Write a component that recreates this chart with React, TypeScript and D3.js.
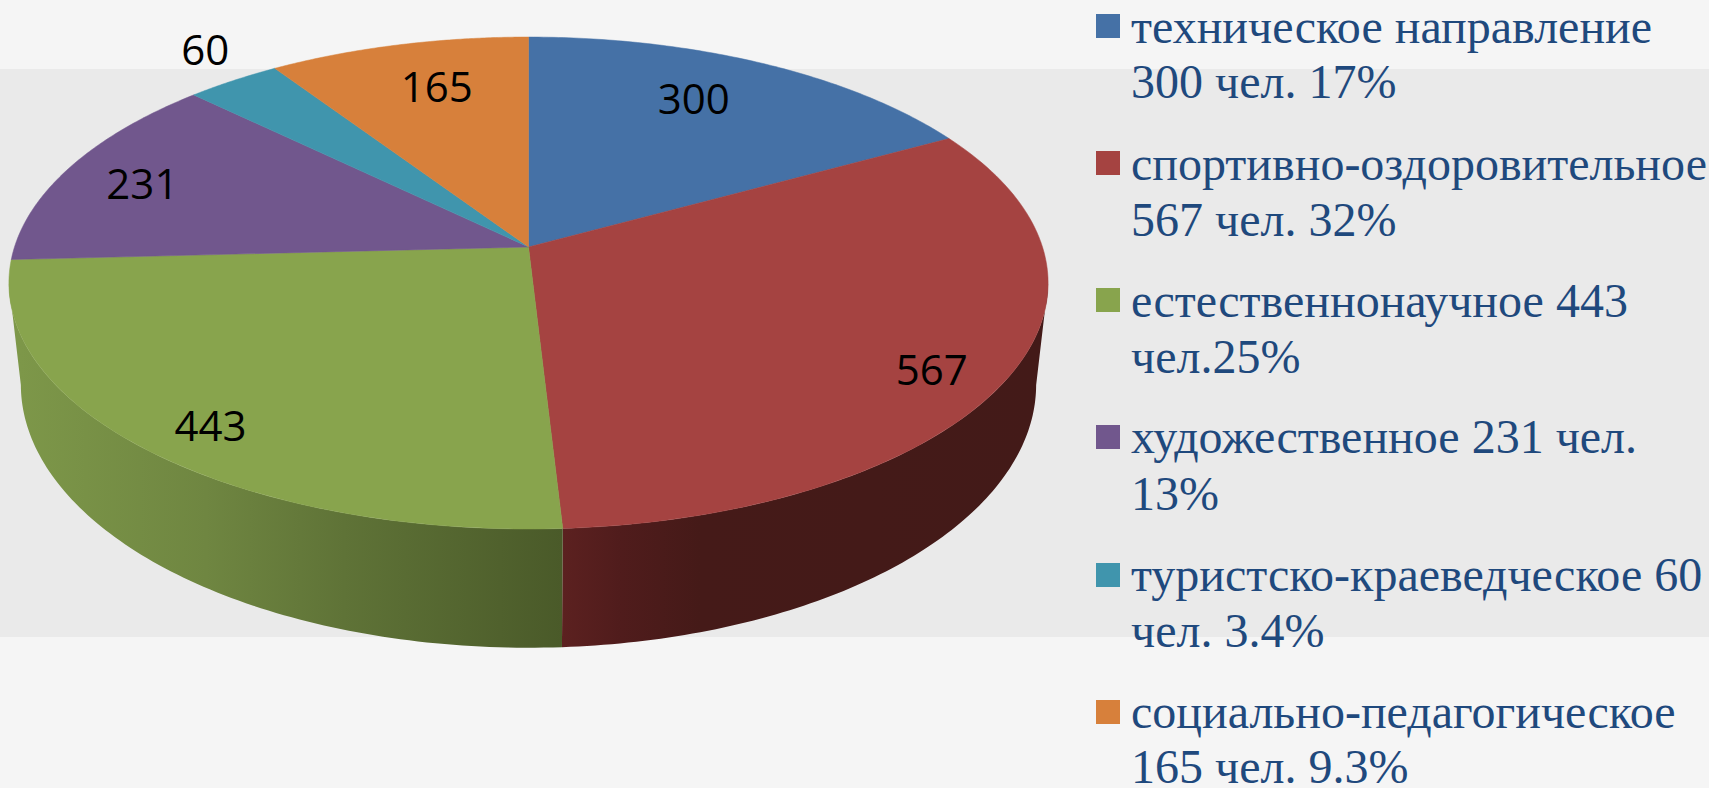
import React from "react";
import * as d3 from "d3";

const categories = ["техническое направление", "спортивно-оздоровительное", "естественнонаучное", "художественное", "туристско-краеведческое", "социально-педагогическое"];
const values = [300, 567, 443, 231, 60, 165];
const colors = ["#4571a6", "#a54341", "#88a44d", "#71578d", "#4095ad", "#d7803b"];
const legendLines = [
  ["техническое направление", "300 чел. 17%"],
  ["спортивно-оздоровительное", "567 чел. 32%"],
  ["естественнонаучное 443", "чел.25%"],
  ["художественное 231 чел.", "13%"],
  ["туристско-краеведческое 60", "чел. 3.4%"],
  ["социально-педагогическое", "165 чел. 9.3%"],
];
const labelNudges = [[-3, -16], [72, 36], [-58, 42], [-61, -7], [-110, -78], [3, -15]];
const swatchTops = [14, 151, 288, 425, 563, 700];
const baselines = [[43, 98], [180, 236], [317, 373], [453, 510], [591, 647], [728, 783]];

const W = 1709, H = 788;
const hubX = 528.5, hubY = 247;
const R = 514, Rv = 240.7, K = 0.1464;
const baseScaleX = 0.977, baseScaleY = 1.07, baseHubY = 346;

function project(theta: number, r = 1): [number, number] {
  const u = r * Math.sin(theta), v = -r * Math.cos(theta);
  const den = 1 - K * v;
  return [R * u / den, Rv * v / den];
}
const topPt = (t: number, r = 1): [number, number] => {
  const [x, y] = project(t, r);
  return [hubX + x, hubY + y];
};
const basePt = (t: number): [number, number] => {
  const [x, y] = project(t);
  return [hubX + x * baseScaleX, baseHubY + y * baseScaleY];
};
const samples = (a: number, b: number) => d3.range(0, 97).map(i => a + (b - a) * i / 96);
const line = d3.line();

const frontStart = (98.5 * Math.PI) / 180;
const frontEnd = (261.5 * Math.PI) / 180;

const greenWall = d3.scaleLinear<string>().domain([20, 206, 344, 562]).range(["#7d9749", "#6f8641", "#5f7337", "#4a5a29"]);
const redWall = d3.scaleLinear<string>().domain([562, 620, 700, 1040]).range(["#5c2120", "#501c1c", "#451a18", "#431a18"]);

export default function App() {
  const arcs = d3.pie<number>().sort(null)(values);
  return (
    <svg width={W} height={H} viewBox={`0 0 ${W} ${H}`} style={{ position: "fixed", left: 0, top: 0, display: "block" }}>
      <defs>
        <linearGradient id="wall-1" gradientUnits="userSpaceOnUse" x1={562} x2={1040} y1={0} y2={0}>
          {redWall.domain().map(d => <stop key={d} offset={(d - 562) / 478} stopColor={redWall(d)} />)}
        </linearGradient>
        <linearGradient id="wall-2" gradientUnits="userSpaceOnUse" x1={20} x2={562} y1={0} y2={0}>
          {greenWall.domain().map(d => <stop key={d} offset={(d - 20) / 542} stopColor={greenWall(d)} />)}
        </linearGradient>
      </defs>
      <rect x={0} y={0} width={W} height={H} fill="#f5f5f5" />
      <rect x={0} y={69} width={W} height={568} fill="#eaeaea" />

      {arcs.map((a, i) => {
        const s = Math.max(a.startAngle, frontStart), e = Math.min(a.endAngle, frontEnd);
        if (s >= e) return null;
        const pts = [...samples(s, e).map(t => topPt(t)), ...samples(s, e).reverse().map(t => basePt(t))];
        return <path key={i} d={line(pts) + "Z"} fill={`url(#wall-${i})`} />;
      })}

      {arcs.map((a, i) => {
        const pts: [number, number][] = [[hubX, hubY], ...samples(a.startAngle, a.endAngle).map(t => topPt(t))];
        return <path key={i} d={line(pts) + "Z"} fill={colors[i]} stroke={colors[i]} strokeWidth={0.5} />;
      })}

      {arcs.map((a, i) => {
        const [x, y] = topPt((a.startAngle + a.endAngle) / 2, 0.7);
        return (
          <text key={i} x={x + labelNudges[i][0]} y={y + labelNudges[i][1]} textAnchor="middle" dominantBaseline="central"
            fontFamily="'Open Sans', sans-serif" fontSize={42} fill="#000">
            {values[i]}
          </text>
        );
      })}

      {categories.map((c, i) => (
        <g key={c}>
          <rect x={1096} y={swatchTops[i]} width={24} height={24} fill={colors[i]} />
          {legendLines[i].map((t, j) => (
            <text key={j} x={1131} y={baselines[i][j]} fontFamily="'Liberation Serif', serif" fontSize={48} fill="#1f497d">{t}</text>
          ))}
        </g>
      ))}
    </svg>
  );
}
